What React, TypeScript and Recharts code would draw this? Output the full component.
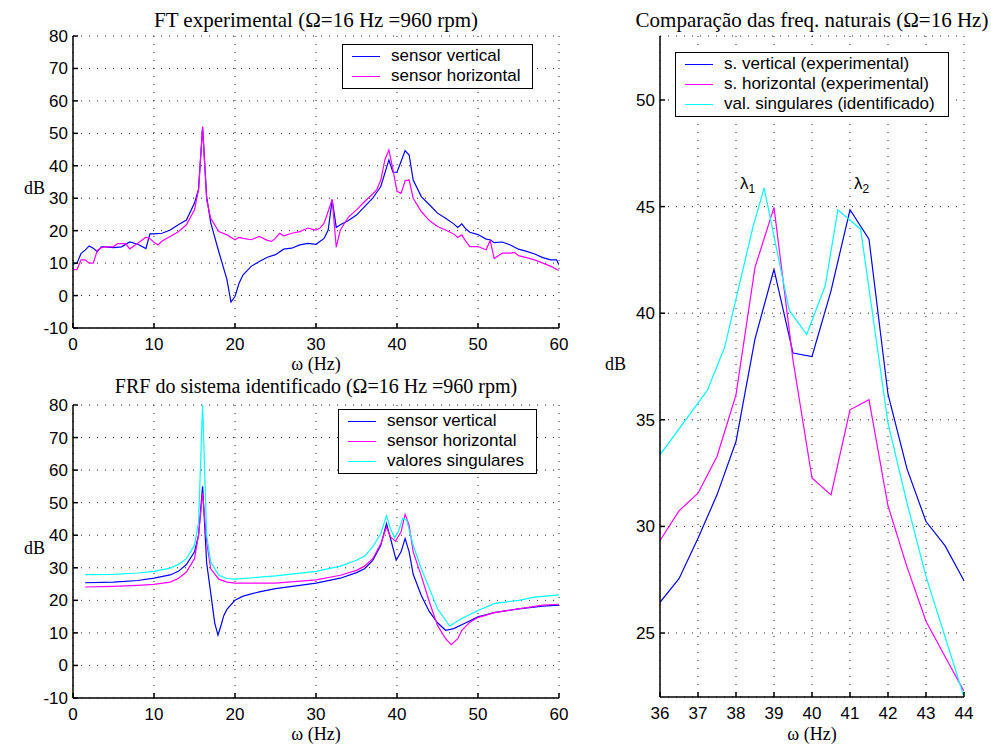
import { LineChart, Line, XAxis, YAxis, CartesianGrid, Legend } from 'recharts'

const SANS = '"Liberation Sans", Arial, Helvetica, sans-serif'
const SERIF = '"Liberation Serif", "Times New Roman", serif'

const BLUE = '#0000ff'
const MAGENTA = '#ff00ff'
const CYAN = '#00ffff'

// FT experimental (top left)
const ftVertFreq = [0, 0.5, 1, 1.5, 2, 2.5, 3, 3.5, 4, 5, 6, 7, 8, 9, 9.5, 10, 11, 12, 13, 14, 15, 15.5, 16, 16.5, 17, 18, 19, 19.5, 20, 20.5, 21, 22, 23, 24, 25, 26, 27, 28, 29, 30, 31, 31.5, 32, 32.5, 33, 34, 35, 36, 37, 38, 39, 39.5, 40, 40.5, 41, 41.5, 42, 43, 44, 45, 46, 47, 47.5, 48, 48.5, 49, 50, 51, 51.5, 52, 53, 54, 55, 56, 57, 58, 59, 59.7, 60]
const ftVertDb = [9.7, 10, 13, 14, 15.3, 14.6, 13.5, 15, 15, 14.8, 15, 16.5, 15.8, 14.5, 19, 19, 19.2, 20.2, 21.8, 23.3, 28.5, 32.8, 52, 30.5, 22.5, 13.5, 5, -2, -0.3, 3.8, 6.4, 9, 10.5, 11.8, 12.6, 14.3, 14.6, 15.6, 16.1, 15.8, 17.6, 20.2, 29.5, 21, 21.8, 23.1, 24.8, 27.4, 30, 33.6, 41.8, 38, 38, 41.3, 44.7, 43.3, 35.6, 30.5, 28, 25.4, 23.8, 22.1, 21, 22.1, 20.5, 19.5, 18.8, 17.4, 17.2, 16.3, 16.5, 15.6, 14.3, 13.6, 12.8, 11.7, 11, 11, 9.5]
const ftHorFreq = [0, 0.5, 1, 1.5, 2, 2.5, 3, 3.5, 4, 5, 5.5, 6, 6.5, 7, 8, 9, 9.5, 10, 10.5, 11, 12, 13, 14, 15, 15.5, 16, 16.5, 17, 18, 19, 20, 20.5, 21, 22, 23, 24, 24.5, 25, 25.5, 26, 27, 28, 29, 30, 30.5, 31, 31.5, 32, 32.5, 33, 34, 35, 36, 37, 37.5, 38, 38.5, 39, 39.5, 40, 40.5, 41, 41.5, 42, 43, 44, 45, 46, 47, 47.5, 48, 48.5, 49, 50, 51, 51.5, 52, 53, 54, 54.5, 55, 56, 57, 58, 59, 60]
const ftHorDb = [8, 8, 11, 11, 10, 10, 13.9, 14.8, 15, 15.1, 16, 16, 16, 14.4, 16.1, 18, 17.6, 16.4, 15.6, 16.8, 18.2, 19.7, 21.8, 26.4, 32.6, 52, 29.5, 23.8, 19.7, 18.7, 17.2, 17.9, 17.6, 17.2, 18.2, 17, 16.7, 17.7, 19.2, 18.4, 19.2, 19.7, 20.8, 20.2, 20.8, 22.3, 25.9, 29.7, 14.9, 20.2, 24.2, 26.4, 29, 31.3, 32.6, 35.6, 41.8, 44.9, 38.8, 32.1, 31.5, 35.4, 35.6, 30, 25.9, 23.1, 21.3, 20.2, 19, 17.9, 18.7, 16.7, 15.1, 15.1, 14.1, 17, 11.4, 13.1, 13.1, 13.3, 12.3, 11.7, 11, 10, 9, 7.7]

// FRF do sistema identificado (bottom left)
const frfVertFreq = [1.5, 5, 8, 10, 12, 13, 14, 15, 15.5, 16, 16.5, 17, 17.5, 17.9, 18.3, 18.6, 19, 20, 21, 23, 25, 28, 30, 33, 35, 36, 37, 38, 38.7, 39.2, 39.9, 40.5, 41, 41.5, 42, 43, 44, 45, 46, 47, 48, 50, 52, 55, 58, 60]
const frfVertDb = [25.4, 25.6, 26.1, 26.8, 27.8, 28.9, 31, 34.9, 40, 55, 31.5, 22.3, 13, 9.3, 12.5, 15.2, 17.2, 20, 21.3, 22.6, 23.6, 24.6, 25.3, 26.8, 28.5, 29.7, 32.3, 36.9, 43.6, 39, 32.3, 34.9, 39, 34.9, 28, 21.5, 16.5, 13.1, 10.8, 11.3, 12.5, 14.9, 16.2, 17.4, 18.2, 18.5]
const frfHorFreq = [1.5, 5, 8, 10, 12, 13, 14, 15, 15.5, 16, 16.5, 17, 18, 19, 20, 25, 30, 33, 35, 36, 37, 38, 38.7, 39.2, 39.8, 40.5, 41, 41.5, 42, 43, 44, 45, 46, 46.7, 47.5, 48, 49, 50, 52, 55, 58, 60]
const frfHorDb = [24.1, 24.3, 24.6, 24.9, 25.6, 26.7, 28.7, 32.8, 40, 53, 38, 29.7, 26.5, 25.6, 25.3, 25.3, 26.3, 27.7, 29.2, 30.5, 32.8, 37.4, 42.5, 39.5, 38.2, 41, 46.4, 43, 34.9, 27.5, 19.5, 12.3, 8.2, 6.4, 8.2, 10.8, 13.3, 14.7, 16.2, 17.4, 18.5, 18.8]
const frfSvFreq = [1.5, 5, 8, 10, 12, 13, 14, 15, 15.5, 16, 16.5, 17, 18, 19, 20, 25, 30, 33, 35, 36, 37, 38, 38.7, 39.2, 39.7, 40.2, 40.7, 41.2, 42, 43, 44, 45, 46.5, 48, 50, 52, 55, 57, 60]
const frfSvDb = [27.9, 28, 28.4, 28.9, 29.9, 31, 32.8, 36.9, 44, 80, 40, 31.8, 27.7, 26.7, 26.5, 27.5, 28.9, 30.5, 32.3, 33.6, 36.4, 40.5, 46, 42, 39.2, 41.3, 45.1, 44.6, 36.9, 29.7, 23.6, 17.4, 12.1, 14.4, 16.9, 19, 20, 21, 21.7]

// Comparação das freq. naturais (right)
const cmpFreq = [36, 36.5, 37, 37.5, 38, 38.5, 39, 39.5, 40, 40.5, 41, 41.5, 42, 42.5, 43, 43.5, 44]
const cmpVertDb = [26.44, 27.55, 29.45, 31.48, 33.98, 38.8, 42.06, 38.13, 37.97, 41.05, 44.85, 43.47, 36.2, 32.7, 30.23, 29.1, 27.45]
const cmpHorDb = [29.34, 30.73, 31.56, 33.28, 36.17, 42.15, 44.96, 37.8, 32.27, 31.48, 35.47, 35.94, 30.97, 28.1, 25.55, 23.9, 22.27]
const cmpSvFreq = [36, 37, 37.25, 37.7, 38.45, 38.74, 39.4, 39.86, 40.35, 40.68, 41.28, 42, 42.5, 43, 44]
const cmpSvDb = [33.36, 35.78, 36.4, 38.4, 44.07, 45.87, 40.14, 39.0, 41.3, 44.85, 43.94, 34.84, 31.1, 27.66, 22.0]

const leftXTicks = [0, 10, 20, 30, 40, 50, 60]
const leftYTicks = [-10, 0, 10, 20, 30, 40, 50, 60, 70, 80]
const cmpXTicks = [36, 37, 38, 39, 40, 41, 42, 43, 44]
const cmpYTicks = [25, 30, 35, 40, 45, 50]

const toPoints = (freq: number[], db: number[]) => freq.map((f, i) => ({ f, db: db[i] }))

type Item = { label: string; color: string }

const boxLegend = (items: Item[], width: number) => () => (
  <div
    style={{
      width,
      boxSizing: 'border-box',
      border: '1.5px solid #000',
      background: '#fff',
      padding: '1px 0 2px 0',
      fontFamily: SANS,
      fontSize: 17,
      color: '#000',
    }}
  >
    {items.map((it) => (
      <div key={it.label} style={{ display: 'flex', alignItems: 'center', height: 20 }}>
        <span style={{ display: 'inline-block', width: 28, marginLeft: 9, marginRight: 11, borderTop: `1.3px solid ${it.color}` }} />
        <span style={{ whiteSpace: 'nowrap' }}>{it.label}</span>
      </div>
    ))}
  </div>
)

const tickStyle = { fontSize: 17, fill: '#000', fontFamily: SANS }
const blank = () => ''

const text = (style: React.CSSProperties, content: React.ReactNode) => (
  <div style={{ position: 'absolute', whiteSpace: 'nowrap', color: '#000', ...style }}>{content}</div>
)

const titleStyle = { transform: 'translateX(-50%)', fontFamily: SERIF, fontSize: 21, lineHeight: '21px' }
const labelStyle = { fontFamily: SERIF, fontSize: 18, lineHeight: '14px' }

export default function App() {
  const axes = (xTicks: number[], yTicks: number[], xDomain: number[], yDomain: number[], yWidth: number) => [
    <CartesianGrid key="g" stroke="#222" strokeDasharray="1 7" />,
    <XAxis key="xb" dataKey="f" type="number" domain={xDomain} ticks={xTicks} allowDataOverflow height={30}
      tick={tickStyle} tickSize={-5} tickMargin={15} stroke="#000" strokeWidth={1.5} />,
    <XAxis key="xt" xAxisId="top" orientation="top" type="number" domain={xDomain} ticks={xTicks} height={0}
      tickFormatter={blank} tickSize={-5} stroke="#000" strokeWidth={1.5} />,
    <YAxis key="yl" dataKey="db" type="number" domain={yDomain} ticks={yTicks} allowDataOverflow width={yWidth}
      tick={tickStyle} tickSize={-5} tickMargin={10} stroke="#000" strokeWidth={1.5} />,
    <YAxis key="yr" yAxisId="right" orientation="right" type="number" domain={yDomain} ticks={yTicks} width={0}
      tickFormatter={blank} tickSize={-5} stroke="#000" strokeWidth={1.5} />,
  ]

  const series = (data: { f: number; db: number }[], color: string, name: string) => (
    <Line key={name} data={data} dataKey="db" name={name} type="linear" stroke={color} strokeWidth={1.2}
      dot={false} activeDot={false} isAnimationActive={false} />
  )

  return (
    <div style={{ position: 'absolute', left: 0, top: 0, width: 991, height: 744, background: '#fff' }}>
      {/* top left */}
      <div style={{ position: 'absolute', left: 0, top: 0 }}>
        <LineChart width={600} height={370} margin={{ top: 36, right: 41, bottom: 12, left: 33 }}>
          {axes(leftXTicks, leftYTicks, [0, 60], [-10, 80], 40)}
          {series(toPoints(ftVertFreq, ftVertDb), BLUE, 'sensor vertical')}
          {series(toPoints(ftHorFreq, ftHorDb), MAGENTA, 'sensor horizontal')}
          <Legend layout="vertical" align="center" verticalAlign="middle"
            wrapperStyle={{ left: 342, top: 44, width: 191 }}
            content={boxLegend([{ label: 'sensor vertical', color: BLUE }, { label: 'sensor horizontal', color: MAGENTA }], 191)} />
        </LineChart>
      </div>

      {/* bottom left */}
      <div style={{ position: 'absolute', left: 0, top: 370 }}>
        <LineChart width={600} height={374} margin={{ top: 35, right: 41, bottom: 16, left: 33 }}>
          {axes(leftXTicks, leftYTicks, [0, 60], [-10, 80], 40)}
          {series(toPoints(frfVertFreq, frfVertDb), BLUE, 'sensor vertical')}
          {series(toPoints(frfHorFreq, frfHorDb), MAGENTA, 'sensor horizontal')}
          {series(toPoints(frfSvFreq, frfSvDb), CYAN, 'valores singulares')}
          <Legend layout="vertical" align="center" verticalAlign="middle"
            wrapperStyle={{ left: 338, top: 39, width: 199 }}
            content={boxLegend([
              { label: 'sensor vertical', color: BLUE },
              { label: 'sensor horizontal', color: MAGENTA },
              { label: 'valores singulares', color: CYAN },
            ], 199)} />
        </LineChart>
      </div>

      {/* right */}
      <div style={{ position: 'absolute', left: 600, top: 0 }}>
        <LineChart width={391} height={744} margin={{ top: 36, right: 27, bottom: 17, left: 30 }}>
          {axes(cmpXTicks, cmpYTicks, [36, 44], [22, 53], 30)}
          {series(toPoints(cmpFreq, cmpVertDb), BLUE, 's. vertical (experimental)')}
          {series(toPoints(cmpFreq, cmpHorDb), MAGENTA, 's. horizontal (experimental)')}
          {series(toPoints(cmpSvFreq, cmpSvDb), CYAN, 'val. singulares (identificado)')}
          <Legend layout="vertical" align="center" verticalAlign="middle"
            wrapperStyle={{ left: 75, top: 52, width: 274 }}
            content={boxLegend([
              { label: 's. vertical (experimental)', color: BLUE },
              { label: 's. horizontal (experimental)', color: MAGENTA },
              { label: 'val. singulares (identificado)', color: CYAN },
            ], 274)} />
        </LineChart>
      </div>

      {text({ left: 316, top: 10, ...titleStyle }, 'FT experimental (Ω=16 Hz =960 rpm)')}
      {text({ left: 316, top: 376, ...titleStyle, fontSize: 20 }, 'FRF do sistema identificado (Ω=16 Hz =960 rpm)')}
      {text({ left: 812, top: 10, ...titleStyle }, 'Comparação das freq. naturais (Ω=16 Hz)')}

      {text({ left: 316, top: 357, transform: 'translateX(-50%)', ...labelStyle }, 'ω (Hz)')}
      {text({ left: 316, top: 727, transform: 'translateX(-50%)', ...labelStyle }, 'ω (Hz)')}
      {text({ left: 812, top: 727, transform: 'translateX(-50%)', ...labelStyle }, 'ω (Hz)')}

      {text({ left: 24, top: 181, ...labelStyle }, 'dB')}
      {text({ left: 24, top: 541, ...labelStyle }, 'dB')}
      {text({ left: 605, top: 357, ...labelStyle }, 'dB')}

      {text({ left: 740, top: 174, fontFamily: SANS, fontSize: 17 }, <span>λ<sub style={{ fontSize: 12, verticalAlign: -4 }}>1</sub></span>)}
      {text({ left: 854, top: 174, fontFamily: SANS, fontSize: 17 }, <span>λ<sub style={{ fontSize: 12, verticalAlign: -4 }}>2</sub></span>)}
    </div>
  )
}
